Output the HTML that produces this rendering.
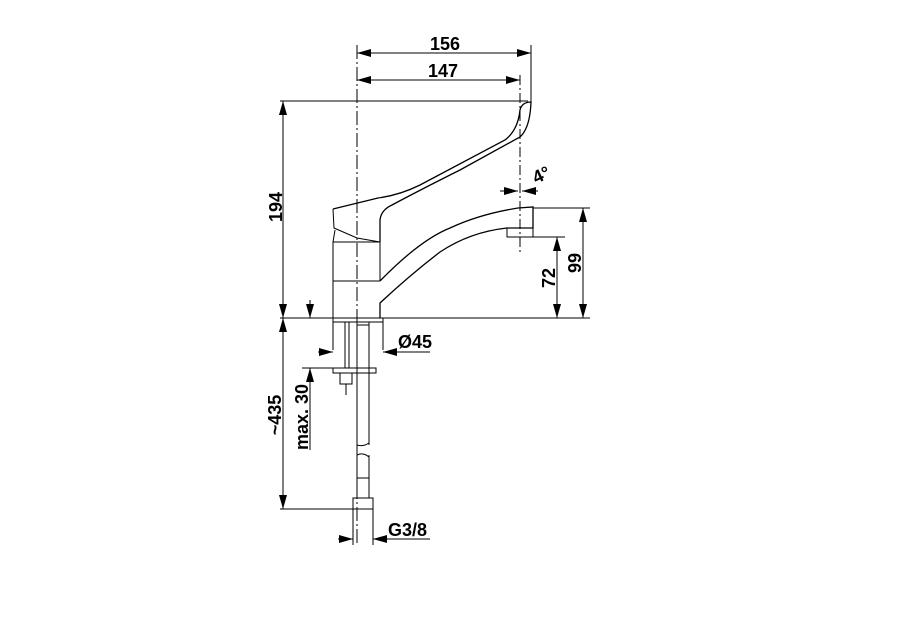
<!DOCTYPE html>
<html><head><style>
html,body{margin:0;padding:0;background:#fff;}
svg{display:block;}
text{font-family:"Liberation Sans",Arial,sans-serif;font-weight:bold;font-size:18px;fill:#000;}
</style></head><body>
<svg width="900" height="630" viewBox="0 0 900 630" xmlns="http://www.w3.org/2000/svg">
<defs>
<marker id="a" viewBox="0 0 14 8" refX="14" refY="4" markerWidth="14" markerHeight="8" orient="auto-start-reverse" markerUnits="userSpaceOnUse"><path d="M0,0L14,4L0,8z" fill="#000"/></marker>
</defs>
<g stroke="#000" stroke-width="1" fill="none">
<line x1="357" y1="45" x2="357" y2="545" stroke-dasharray="14,3,2,3"/>
<line x1="520" y1="75" x2="520" y2="252" stroke-dasharray="10,3,2,3"/>
<line x1="531" y1="45" x2="531" y2="102"/>
<line x1="280" y1="101" x2="528" y2="101"/>
<line x1="280" y1="318" x2="590" y2="318"/>
<line x1="533" y1="208" x2="590" y2="208"/>
<line x1="533" y1="237" x2="565" y2="237"/>
<line x1="280" y1="509" x2="355" y2="509"/>
<line x1="302" y1="368" x2="333" y2="368"/>
<line x1="357" y1="53" x2="531" y2="53" marker-start="url(#a)" marker-end="url(#a)"/>
<line x1="357" y1="80" x2="520" y2="80" marker-start="url(#a)" marker-end="url(#a)"/>
<line x1="283" y1="101" x2="283" y2="318" marker-start="url(#a)" marker-end="url(#a)"/>
<line x1="583" y1="208" x2="583" y2="318" marker-start="url(#a)" marker-end="url(#a)"/>
<line x1="557" y1="237" x2="557" y2="318" marker-start="url(#a)" marker-end="url(#a)"/>
<line x1="283" y1="318" x2="283" y2="509" marker-start="url(#a)" marker-end="url(#a)"/>
<line x1="310" y1="300" x2="310" y2="318" marker-end="url(#a)"/>
<line x1="310" y1="450" x2="310" y2="368" marker-end="url(#a)"/>
<line x1="318" y1="352" x2="333" y2="352" marker-end="url(#a)"/>
<line x1="430" y1="352" x2="383" y2="352" marker-end="url(#a)"/>
<line x1="338" y1="539" x2="353" y2="539" marker-end="url(#a)"/>
<line x1="430" y1="539" x2="373" y2="539" marker-end="url(#a)"/>
<line x1="353" y1="509" x2="353" y2="545"/>
<line x1="373" y1="509" x2="373" y2="545"/>
<line x1="500" y1="191" x2="518" y2="191" marker-end="url(#a)"/>
<line x1="538" y1="191" x2="522" y2="191" marker-end="url(#a)"/>
<path d="M333,209 L378,198 Q400,195 420,185 L505,140 Q518,130 520,110 Q522,102 531,102 Q530,128 520,137 L460,170 Q420,190 392,205 Q381,210 380,220 L380,242" stroke-width="1.3"/>
<path d="M333,209 L334,228 L357,238 L380,242"/>
<path d="M335,230 L333,242 L333,318 M380,242 L380,281"/>
<line x1="333" y1="242" x2="380" y2="242"/>
<line x1="333" y1="281" x2="380" y2="281"/>
<path d="M380,281 Q420,240 450,228 Q480,214 518,208 L533,207 L533,228 L507,228 Q470,232 440,252 Q410,275 380,303 L380,318" stroke-width="1.3"/>
<rect x="507" y="228" width="26" height="9"/>
<path d="M333,318 L333,350 M383,318 L383,350"/>
<line x1="333" y1="322" x2="383" y2="322"/>
<line x1="345" y1="322" x2="345" y2="368"/>
<line x1="349" y1="322" x2="349" y2="368"/>
<rect x="333" y="368" width="43" height="5"/>
<rect x="340" y="373" width="12" height="11"/>
<line x1="346" y1="384" x2="346" y2="395"/>
<path d="M357,322 L357,445 M369,322 L369,445 M357,455 L357,498 M369,455 L369,498"/>
<path d="M357,445 Q363,447 369,443 M357,455 Q363,452 369,457"/>
<line x1="357" y1="325" x2="369" y2="325"/>
<line x1="357" y1="478" x2="369" y2="478"/>
<rect x="353" y="498" width="20" height="11"/>
</g>
<text x="445" y="50" text-anchor="middle">156</text>
<text x="443" y="77" text-anchor="middle">147</text>
<text transform="translate(282,207) rotate(-90)" text-anchor="middle">194</text>
<text transform="translate(581,263) rotate(-90)" text-anchor="middle">99</text>
<text transform="translate(555,278) rotate(-90)" text-anchor="middle">72</text>
<text transform="translate(281,415) rotate(-90)" text-anchor="middle">~435</text>
<text transform="translate(308,417) rotate(-90)" text-anchor="middle">max. 30</text>
<text x="398" y="348">Ø45</text>
<text x="388" y="536">G3/8</text>
<text transform="translate(536,184) rotate(-25)">4°</text>
</svg>
</body></html>
